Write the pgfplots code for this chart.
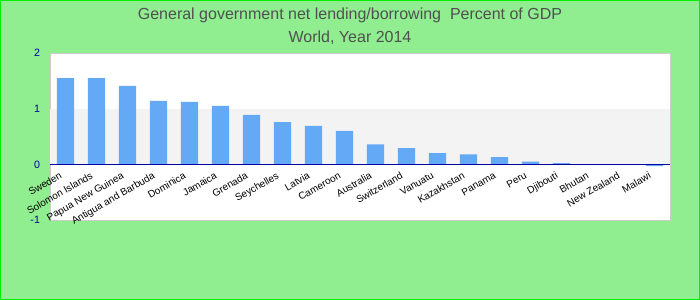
\documentclass[border=0pt]{standalone}
\usepackage{pgfplots}
\pgfplotsset{compat=1.18}
\usepackage{fontspec}
\setmainfont{Liberation Sans}
\definecolor{bgreen}{RGB}{144,238,144}
\definecolor{bordergreen}{RGB}{0,238,0}
\definecolor{barblue}{RGB}{99,169,245}
\definecolor{band}{RGB}{243,243,243}
\definecolor{titlegray}{RGB}{80,80,80}
\definecolor{ticknavy}{RGB}{0,0,160}
\begin{document}
\begin{tikzpicture}
\fill[bgreen] (0,0) rectangle (525pt,225pt);
\draw[bordergreen, line width=0.75pt] (0.375pt,0.375pt) rectangle (524.625pt,224.625pt);
\node[titlegray, font=\fontsize{12pt}{14pt}\selectfont] at (262.5pt,213.5pt) {General government net lending/borrowing\ \ Percent of GDP};
\node[titlegray, font=\fontsize{12pt}{14pt}\selectfont] at (262.5pt,196.5pt) {World, Year 2014};
\begin{axis}[
  at={(37.5pt,60pt)}, anchor=south west,
  scale only axis, width=465pt, height=125.25pt,
  xmin=-0.5, xmax=19.5, ymin=-1, ymax=2,
  axis background/.style={fill=white},
  axis line style={draw=black!20},
  ytick={-1,0,1,2},
  yticklabel style={font=\fontsize{8pt}{9pt}\selectfont, text=ticknavy, xshift=-4pt},
  /pgf/number format/assume math mode=true,
  xtick=data,
  xticklabels={Sweden,Solomon Islands,Papua New Guinea,Antigua and Barbuda,Dominica,Jamaica,Grenada,Seychelles,Latvia,Cameroon,Australia,Switzerland,Vanuatu,Kazakhstan,Panama,Peru,Djibouti,Bhutan,New Zealand,Malawi},
  xticklabel style={font=\fontsize{7.5pt}{9pt}\selectfont, yshift=38pt, xshift=-4.5pt, rotate=30, anchor=north east, inner sep=1pt},
  major tick length=0pt,
  tick style={draw=none},
  ybar, bar width=0.55,
  clip=false,
]
\fill[band] (rel axis cs:0,0.3333) rectangle (rel axis cs:1,0.6667);
\addplot[fill=barblue, draw=none] coordinates {
(0,1.55) (1,1.55) (2,1.41) (3,1.14) (4,1.12) (5,1.05) (6,0.89) (7,0.76) (8,0.69) (9,0.60)
(10,0.36) (11,0.29) (12,0.20) (13,0.18) (14,0.13) (15,0.05) (16,0.02) (17,0.003) (18,0.002) (19,-0.03)
};
\draw[ticknavy, line width=1.2pt] (rel axis cs:0,0.3333) -- (rel axis cs:1,0.3333);
\end{axis}
\pgfresetboundingbox
\path (0,0) rectangle (525pt,225pt);
\end{tikzpicture}
\end{document}
